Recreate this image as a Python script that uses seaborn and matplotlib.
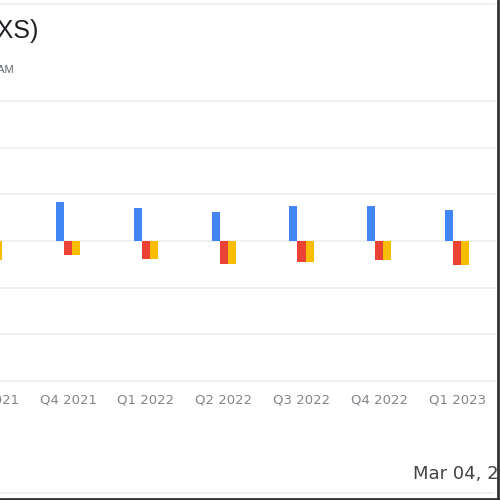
import matplotlib
matplotlib.use("Agg")
import matplotlib.pyplot as plt
from matplotlib.lines import Line2D
import seaborn as sns
import pandas as pd

quarters = ["Q3 2021", "Q4 2021", "Q1 2022", "Q2 2022", "Q3 2022", "Q4 2022", "Q1 2023"]
series_a = [0.80, 0.83, 0.70, 0.62, 0.76, 0.74, 0.66]
series_b = [-0.40, -0.30, -0.38, -0.50, -0.45, -0.40, -0.52]
series_c = [-0.40, -0.30, -0.38, -0.50, -0.45, -0.41, -0.52]
series_names = ["Series A", "Series B", "Series C"]
colors = ["#4285F4", "#EA4335", "#FBBC04"]

rows = []
for name, vals in zip(series_names, [series_a, series_b, series_c]):
    for q, v in zip(quarters, vals):
        rows.append({"quarter": q, "value": v, "series": name})
df = pd.DataFrame(rows)

sns.set_theme(style="white")
plt.rcParams["font.family"] = ["Liberation Sans", "DejaVu Sans"]

fig = plt.figure(figsize=(5, 5), dpi=100)
fig.patch.set_facecolor("white")

left_px, right_px = -48.6, 496.0
top_px, bottom_px = 100.0, 382.0
ax = fig.add_axes([left_px / 500, 1 - bottom_px / 500,
                   (right_px - left_px) / 500, (bottom_px - top_px) / 500])

sns.barplot(data=df, x="quarter", y="value", hue="series", order=quarters,
            hue_order=series_names, palette=colors, width=0.31,
            saturation=1, legend=False, linewidth=0, ax=ax)

ax.set_xlim(-0.5, len(quarters) - 0.5)
ax.set_ylim(-3.02, 3.02)
ax.set_yticks([-3, -2, -1, 0, 1, 2, 3])
ax.yaxis.grid(True, color="#eeeff1", linewidth=1.3)
ax.set_axisbelow(True)
for s in ax.spines.values():
    s.set_visible(False)
ax.tick_params(axis="y", labelleft=False, length=0)
ax.tick_params(axis="x", length=0, pad=8)
for lbl in ax.get_xticklabels():
    lbl.set_fontfamily("DejaVu Sans")
    lbl.set_fontsize(9.5)
    lbl.set_color("#80868b")
ax.set_xlabel("")
ax.set_ylabel("")

fig.text(38 / 500, 1 - 31 / 500, "Earnings History (XS)", ha="right", va="center",
         fontsize=18, color="#202124")
fig.text(14 / 500, 1 - 70 / 500, "10:00 AM", ha="right", va="center",
         fontsize=8, color="#5f6368")
fig.text(413 / 500, 1 - 474 / 500, "Mar 04, 2024", ha="left", va="center",
         fontsize=13, color="#444444", family="DejaVu Sans")

fig.add_artist(Line2D([0, 495 / 500], [1 - 4 / 500, 1 - 4 / 500],
                      transform=fig.transFigure, color="#eeeff1", lw=1.5))
fig.add_artist(Line2D([0, 494 / 500], [1 - 493 / 500, 1 - 493 / 500],
                      transform=fig.transFigure, color="#eeeff1", lw=1.2))
fig.add_artist(Line2D([497.5 / 500, 497.5 / 500], [0, 1],
                      transform=fig.transFigure, color="#333333", lw=2))
fig.add_artist(Line2D([0, 1], [1 - 498.5 / 500, 1 - 498.5 / 500],
                      transform=fig.transFigure, color="#333333", lw=2))

fig.savefig("out.png", dpi=100)
